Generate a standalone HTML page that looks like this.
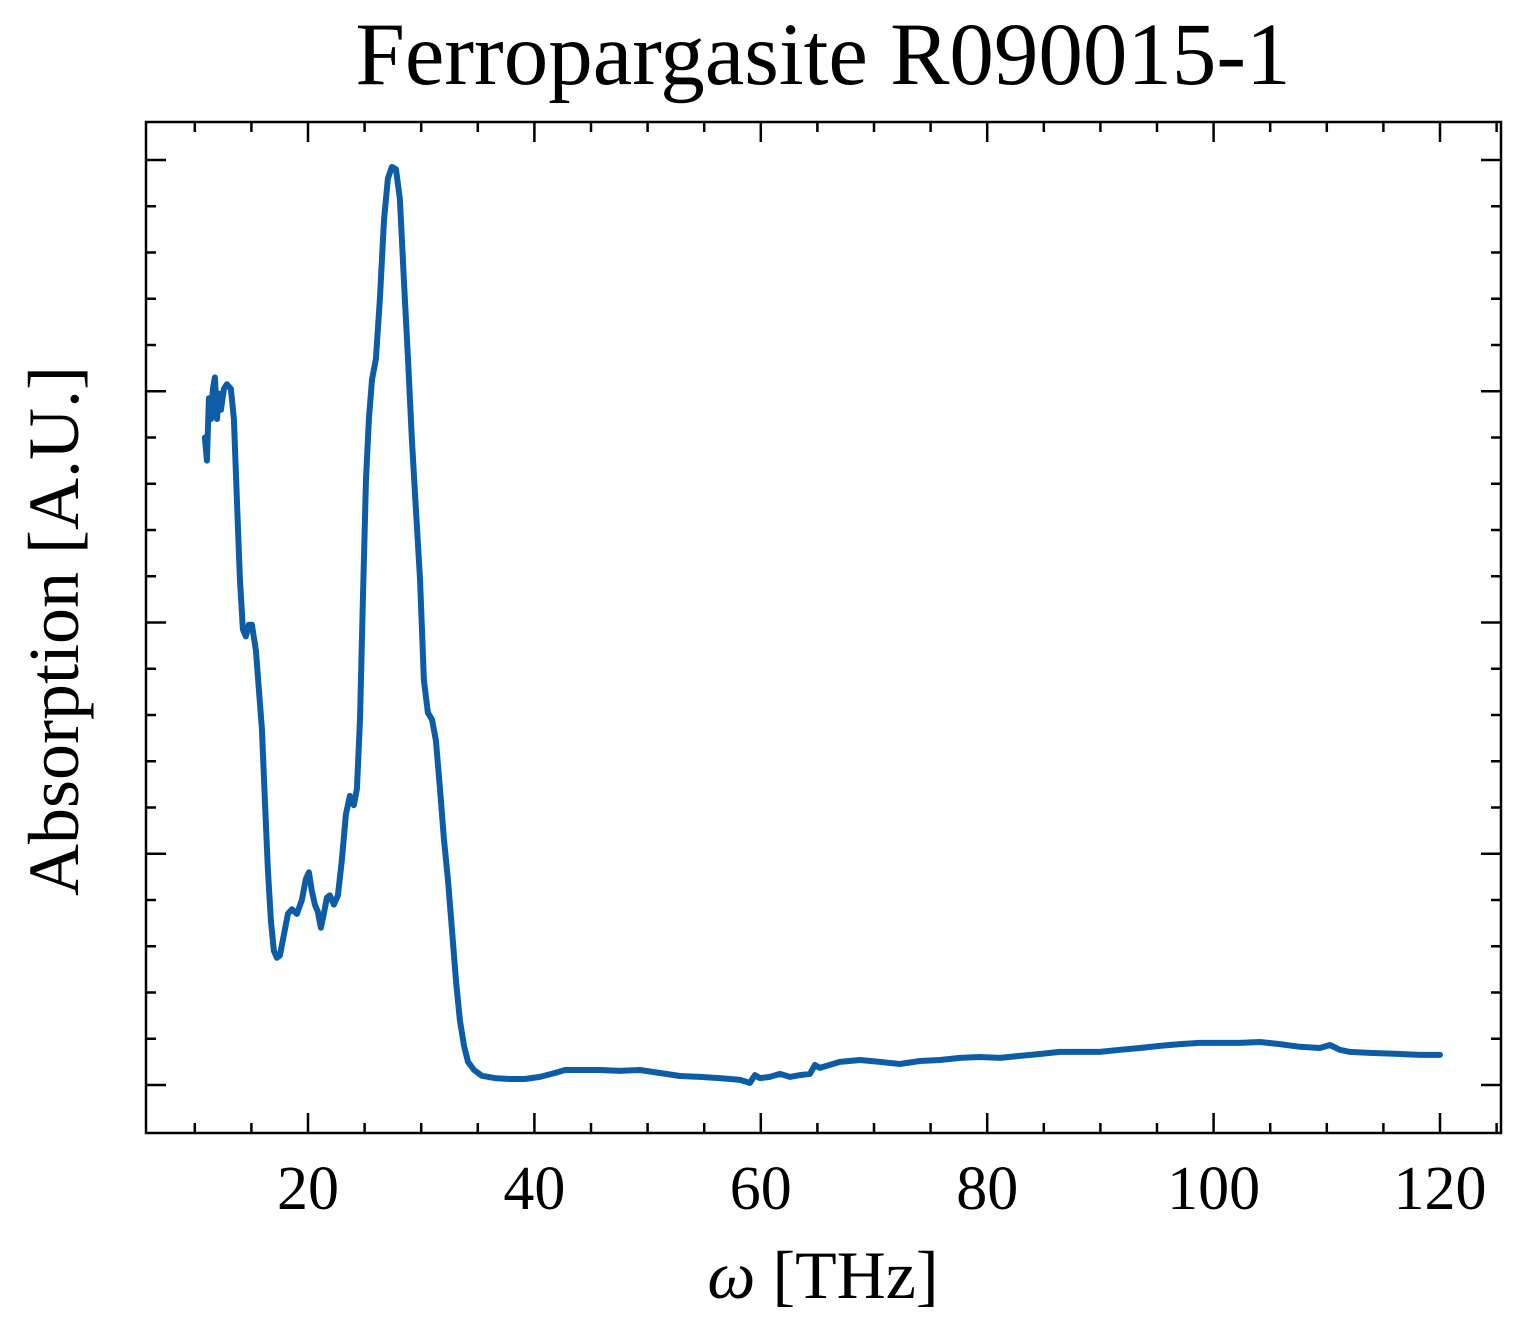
<!DOCTYPE html>
<html><head><meta charset="utf-8"><style>
html,body{margin:0;padding:0;background:#fff;}
svg{display:block;font-family:"Liberation Serif",serif;}
</style></head><body>
<svg id="chart" width="1527" height="1344" xmlns="http://www.w3.org/2000/svg">
<text x="823" y="84" font-size="89" text-anchor="middle">Ferropargasite R090015-1</text>
<text x="823" y="1298" font-size="68" text-anchor="middle"><tspan font-style="italic">ω</tspan> [THz]</text>
<text transform="translate(78,631) rotate(-90)" font-size="72" text-anchor="middle">Absorption [A.U.]</text>
<g id="ticks"></g>
<g id="plot"></g>
<rect x="146" y="122" width="1355" height="1011" fill="none" stroke="#000" stroke-width="2.5"/>
</svg>
<script>
const xTicks=[20,40,60,80,100,120];
const xTickLabels=["20","40","60","80","100","120"];
const yTicks=[0,1,2,3,4];
const xs=[10.89,11.07,11.25,11.42,11.60,11.78,11.96,12.13,12.31,12.57,12.84,13.19,13.45,13.72,13.98,14.25,14.51,14.78,15.04,15.40,15.66,15.93,16.19,16.46,16.72,16.99,17.25,17.52,17.87,18.22,18.58,19.02,19.46,19.81,20.08,20.34,20.61,20.87,21.14,21.40,21.67,21.93,22.29,22.64,22.99,23.35,23.70,24.05,24.32,24.59,24.85,25.12,25.38,25.65,26.00,26.35,26.71,27.06,27.41,27.77,28.12,28.47,28.83,29.18,29.53,29.89,30.24,30.59,30.95,31.30,31.66,32.01,32.36,32.72,33.07,33.42,33.78,34.13,34.66,35.36,36.51,37.84,39.16,40.49,41.81,42.70,44.02,45.79,47.55,49.32,51.09,52.85,54.62,56.39,58.15,59.04,59.48,59.92,60.80,61.69,62.57,63.46,64.34,64.78,65.22,66.99,68.75,70.52,72.29,74.05,75.82,77.59,79.35,81.12,82.89,84.65,86.42,88.19,89.95,91.72,93.49,95.25,97.02,98.79,100.56,102.32,104.09,105.85,107.62,109.39,110.27,111.15,112.04,113.80,116.45,118.22,120.0];
const ys=[2.80,2.70,2.97,2.88,3.01,3.06,2.88,2.99,2.92,3.01,3.03,3.01,2.88,2.53,2.19,1.97,1.94,1.99,1.99,1.88,1.71,1.54,1.23,0.93,0.71,0.58,0.55,0.56,0.65,0.74,0.76,0.74,0.80,0.89,0.92,0.84,0.78,0.75,0.68,0.74,0.81,0.82,0.78,0.82,0.97,1.17,1.25,1.21,1.28,1.58,2.10,2.62,2.88,3.05,3.14,3.40,3.74,3.92,3.97,3.96,3.83,3.48,3.14,2.79,2.49,2.19,1.75,1.61,1.58,1.49,1.28,1.06,0.89,0.67,0.45,0.28,0.17,0.10,0.065,0.04,0.03,0.026,0.026,0.035,0.052,0.065,0.065,0.065,0.061,0.065,0.052,0.039,0.035,0.03,0.022,0.009,0.043,0.03,0.035,0.048,0.035,0.043,0.048,0.087,0.074,0.10,0.108,0.10,0.091,0.104,0.108,0.117,0.121,0.117,0.126,0.134,0.143,0.143,0.143,0.152,0.16,0.169,0.177,0.182,0.182,0.182,0.186,0.177,0.165,0.16,0.173,0.152,0.143,0.139,0.134,0.13,0.13];

const NS="http://www.w3.org/2000/svg";
const L=146,R=1501,T=122,B=1133;
function sx(v){return 308+(v-20)*(1440-308)/100;}
function sy(v){return 1085-v*231.25;}
const tg=document.getElementById('ticks');
function line(x1,y1,x2,y2,name){
  const l=document.createElementNS(NS,'line');
  l.setAttribute('x1',x1);l.setAttribute('y1',y1);l.setAttribute('x2',x2);l.setAttribute('y2',y2);
  l.setAttribute('stroke','#000');l.setAttribute('stroke-width','2.5');
  
  
  tg.appendChild(l);
}
for(let v=10;v<=125;v+=5){
  const x=sx(v); if(x<L+2||x>R-2) continue;
  const major=(v%20===0); const len=major?20:10;
  line(x,B,x,B-len,'x-tick');line(x,T,x,T+len,'x-tick-top');
}
xTicks.forEach((v,i)=>{
  const t=document.createElementNS(NS,'text');
  t.setAttribute('x',sx(v));t.setAttribute('y',1209);t.setAttribute('font-size','62');t.setAttribute('text-anchor','middle');
  t.textContent=xTickLabels[i];
  
  
  tg.appendChild(t);
});
for(let v=-0.2;v<=4.2;v+=0.2){
  const y=sy(v); if(y<T+2||y>B-2) continue;
  const major=Math.abs(v-Math.round(v))<1e-6; const len=major?20:10;
  line(L,y,L+len,y,'y-tick');line(R,y,R-len,y,'y-tick-right');
}
const p=document.createElementNS(NS,'path');
p.setAttribute('d',xs.map((x,i)=>(i?'L':'M')+sx(x).toFixed(1)+' '+sy(ys[i]).toFixed(1)).join(' '));
p.setAttribute('fill','none');p.setAttribute('stroke','#0C5DA5');p.setAttribute('stroke-width','6');p.setAttribute('stroke-linejoin','round');p.setAttribute('stroke-linecap','round');


document.getElementById('plot').appendChild(p);
</script>
</body></html>
